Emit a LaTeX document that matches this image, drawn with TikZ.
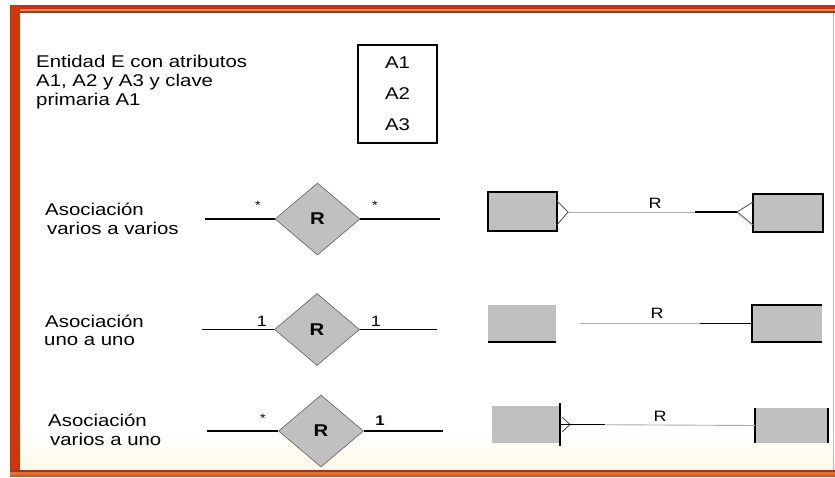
\documentclass[tikz,border=0pt]{standalone}
\usepackage{fontspec}
\setmainfont{Liberation Sans}[FakeStretch=1.2]
\usetikzlibrary{shapes.geometric}
\definecolor{framered}{RGB}{208,44,14}
\definecolor{frametan}{RGB}{200,150,100}
\definecolor{framebrown}{RGB}{150,60,30}
\definecolor{frameorange}{RGB}{225,110,50}
\definecolor{framelight}{RGB}{242,170,130}
\definecolor{leftbar}{RGB}{205,55,10}
\definecolor{cream}{RGB}{255,249,232}
\definecolor{relgray}{RGB}{192,192,192}
\definecolor{entgray}{RGB}{192,192,192}
\begin{document}
\begin{tikzpicture}[x=1pt,y=-1pt,
  lbl/.style={anchor=base west,inner sep=0,font=\fontsize{17}{19}\selectfont},
  rel/.style={diamond,fill=relgray,draw=gray!75!black,line width=0.6,inner sep=0,
    minimum width=85,minimum height=72,font=\bfseries\fontsize{17}{19}\selectfont},
  ent/.style={rectangle,fill=entgray,inner sep=0},
  conn/.style={line width=1.4,black},
  faint/.style={line width=0.9,gray!65},
  foot/.style={line width=0.9,black!65},
  bord/.style={line width=2.4,black},
  mult/.style={inner sep=0,font=\fontsize{12}{14}\selectfont},
  rlab/.style={inner sep=0,font=\fontsize{15}{17}\selectfont}]
\useasboundingbox (0,0) rectangle (835,477);
% frame
\fill[white] (0,0) rectangle (835,477);
\shade[top color=white,bottom color=cream] (20,430) rectangle (833,470);
\fill[framered] (10,5) rectangle (835,9);
\fill[frametan] (10,9) rectangle (835,11);
\fill[framebrown] (10,11) rectangle (835,13);
\fill[leftbar] (10,5) rectangle (20,470);
\fill[framebrown] (10,470) rectangle (835,472);
\fill[frameorange] (10,472) rectangle (835,474.5);
\fill[framebrown!80] (10,474.5) rectangle (835,477);
\fill[framelight] (832.5,13) rectangle (834,470);
% entity description
\node[lbl] (t1) at (36,67) {Entidad E con atributos};
\node[lbl] (t2) at (36,86) {A1, A2 y A3 y clave};
\node[lbl] (t3) at (36,105) {primaria A1};
\node[draw,line width=2.5,minimum width=79,minimum height=98,align=center,
  font=\fontsize{17}{31}\selectfont] (E) at (397.5,94) {A1\\A2\\A3};
% row labels
\node[lbl] (l1a) at (45,215) {Asociación};
\node[lbl] (l1b) at (47,234) {varios a varios};
\node[lbl] (l2a) at (45,327) {Asociación};
\node[lbl] (l2b) at (44,345) {uno a uno};
\node[lbl] (l3a) at (48,426) {Asociación};
\node[lbl] (l3b) at (50,445) {varios a uno};
% row 1 diamond
\node[rel] (d1) at (317.5,219) {R};
\coordinate (d1l) at (205,219);
\coordinate (d1r) at (440,219);
\draw[conn] (d1l) -- (d1.west);
\draw[conn] (d1.east) -- (d1r);
\node[mult] (m1l) at (258,205) {*};
\node[mult] (m1r) at (375,205) {*};
% row 2 diamond
\node[rel] (d2) at (317,329.5) {R};
\coordinate (d2l) at (202,329.5);
\coordinate (d2r) at (437,329.5);
\draw[conn] (d2l) -- (d2.west);
\draw[conn] (d2.east) -- (d2r);
\node[rlab] (m2l) at (262,321) {1};
\node[rlab] (m2r) at (376,321) {1};
% row 3 diamond
\node[rel] (d3) at (321,431) {R};
\coordinate (d3l) at (207,431);
\coordinate (d3r) at (443,431);
\draw[conn] (d3l) -- (d3.west);
\draw[conn] (d3.east) -- (d3r);
\node[mult] (m3l) at (263,418) {*};
\node[inner sep=0,font=\bfseries\fontsize{14}{16}\selectfont] (m3r) at (380,421) {1};
% row 1 right
\node[ent,draw=black,line width=1.8,minimum width=69,minimum height=39] (a1) at (522.5,211.5) {};
\node[ent,draw=black,line width=1.8,minimum width=70,minimum height=38] (b1) at (788,213) {};
\coordinate (a1t) at (568,212);
\coordinate (b1t) at (737,212);
\coordinate (k1) at (695,212);
\draw[foot] (557,201) -- (a1t) -- (557,225);
\draw[foot] (753,202) -- (b1t) -- (753,225);
\draw[faint] (a1t) -- (b1t);
\draw[line width=1.3] (k1) -- (b1t);
\node[rlab] (r1) at (655,203) {R};
% row 2 right
\node[ent,minimum width=68,minimum height=37] (a2) at (522,323.5) {};
\draw[bord] (a2.south west) -- (a2.south east);
\node[ent,minimum width=70,minimum height=37] (b2) at (787,323.5) {};
\draw[bord] (b2.north east) -- (b2.north west) -- (b2.south west) -- (b2.south east);
\coordinate (l2) at (580,323.5);
\coordinate (k2) at (700,323.5);
\draw[faint] (l2) -- (b2.west);
\draw[line width=1.3] (k2) -- (b2.west);
\node[rlab] (r2) at (657,313) {R};
% row 3 right
\node[ent,minimum width=68,minimum height=37] (a3) at (526,424.5) {};
\draw[bord] (560,403) -- (560,446);
\node[ent,minimum width=73,minimum height=35] (b3) at (791.5,425.5) {};
\draw[bord] (b3.north west) -- (b3.south west);
\draw[bord] (b3.north east) -- (b3.south east);
\coordinate (a3t) at (570,424.5);
\coordinate (k3) at (605,424.5);
\draw[foot] (562,417) -- (a3t) -- (562,432);
\draw[faint] (a3.east) -- (b3.west);
\draw[line width=1.3] (a3.east) -- (k3);
\node[rlab] (r3) at (660,416) {R};
\end{tikzpicture}
\end{document}
